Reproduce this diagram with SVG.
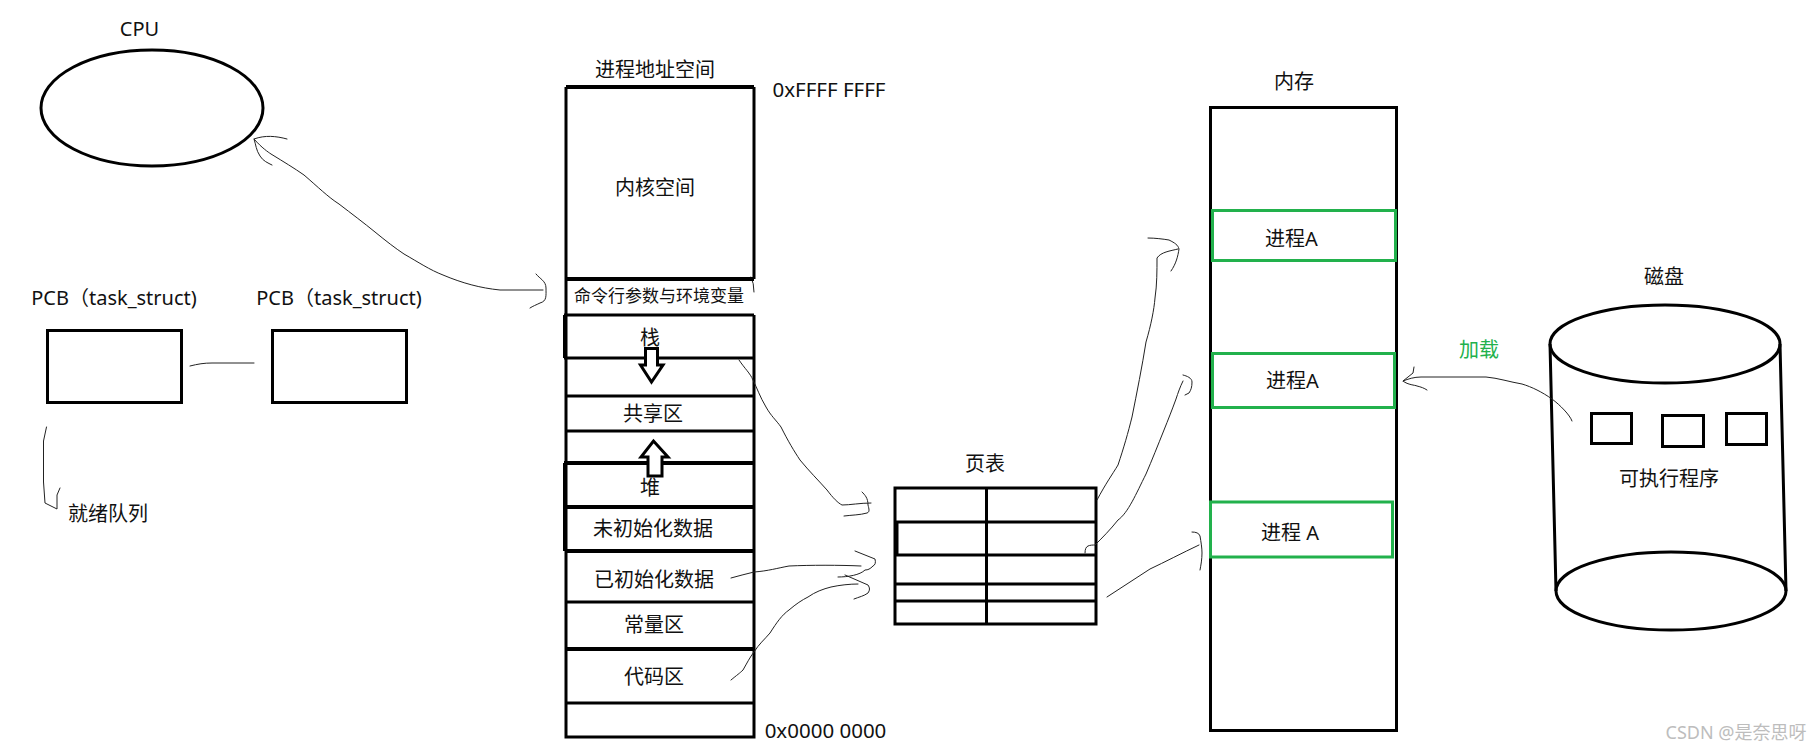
<svg xmlns="http://www.w3.org/2000/svg" width="1820" height="748" viewBox="0 0 1820 748">
<style>
text{font-family:"Noto Sans","Noto Sans CJK SC",sans-serif;font-size:20px;fill:#111;text-anchor:middle}
.small{font-size:17px}
.lat{font-size:20px}
.addr{font-size:20.500px}
.s{fill:none;stroke:#000;stroke-width:3}
.t{fill:none;stroke:#000;stroke-width:4}
.a{fill:#fff;stroke:#000;stroke-width:3}
.g{fill:#fff;stroke:#22b14c;stroke-width:3}
.c{fill:none;stroke:#222;stroke-width:1;stroke-linejoin:round;stroke-linecap:round}
</style>
<rect width="1820" height="748" fill="#fff"/>
<g id="cpu">
<ellipse class="s" cx="152" cy="108" rx="111" ry="58"/>
<text class="lat" x="139.500" y="36">CPU</text>
</g>
<g id="pcb1">
<text class="lat" x="114" y="305">PCB（task_struct)</text>
<rect class="s" x="47.500" y="330.500" width="134" height="72"/>
</g>
<g id="pcb2">
<text class="lat" x="339" y="305">PCB（task_struct)</text>
<rect class="s" x="272.500" y="330.500" width="134" height="72"/>
</g>
<g id="ready-queue"><text x="108" y="521">就绪队列</text></g>
<g id="address-space">
<text x="655" y="77">进程地址空间</text>
<text class="addr" x="829" y="97">0xFFFF FFFF</text>
<path class="t" d="M566 87H754"/>
<path class="s" d="M566 87V737H754V315M754 87V279"/>
<path class="c" stroke-width="2" d="M751 277Q754 283 754 292"/>
<path class="t" d="M566 279H754"/>
<path class="s" d="M564 315H754M564 358H754M566 396H754M566 431H754"/>
<path class="t" d="M565 315V358M564 463H754M566 507H754M566 551H754M565 463V551"/>
<path class="s" d="M566 602H754"/>
<path class="t" d="M566 649H754"/>
<path class="s" d="M566 703H754"/>
<g id="kernel"><text x="655" y="195">内核空间</text></g>
<g id="args"><text class="small" x="659" y="302">命令行参数与环境变量</text></g>
<g id="stack"><text x="650" y="345">栈</text></g>
<path class="a" d="M645.500 348.500H657.500V365H663L651.500 382L640.500 365H645.500Z"/>
<g id="shared"><text x="653" y="421">共享区</text></g>
<path class="a" d="M648 476H662V457H668L653.500 441L641 457H648Z"/>
<g id="heap"><text x="650" y="495">堆</text></g>
<g id="bss"><text x="653" y="536">未初始化数据</text></g>
<g id="data"><text x="654" y="587">已初始化数据</text></g>
<g id="const"><text x="654" y="632">常量区</text></g>
<g id="code"><text x="654" y="684">代码区</text></g>
<text class="addr" x="825.500" y="738">0x0000 0000</text>
</g>
<g id="page-table">
<text x="985" y="471">页表</text>
<path class="s" d="M895 488H1096V624H895ZM986.500 488V624M895 522H1096M895 555H1096M895 584H1096M895 601H1096"/>
<path class="s" d="M897 522V555"/>
</g>
<g id="memory">
<text x="1294" y="89">内存</text>
<rect class="s" x="1210.500" y="107.500" width="186" height="623"/>
<g id="proc1"><rect class="g" x="1212.500" y="210.500" width="183" height="50"/><text x="1291.500" y="246">进程A</text></g>
<g id="proc2"><rect class="g" x="1212.500" y="353.500" width="182" height="54"/><text x="1292.500" y="388">进程A</text></g>
<g id="proc3"><rect class="g" x="1210.500" y="502" width="182" height="55"/><text x="1290" y="540">进程 A</text></g>
</g>
<g id="disk">
<text x="1664" y="284">磁盘</text>
<ellipse class="s" cx="1665" cy="344" rx="115" ry="39"/>
<ellipse class="s" cx="1671" cy="591" rx="115" ry="39"/>
<path class="s" d="M1550 344L1556 591M1780 344L1786 591"/>
<rect class="s" x="1591.500" y="413.500" width="40" height="30"/>
<rect class="s" x="1662.500" y="415.500" width="41" height="31"/>
<rect class="s" x="1726.500" y="413.500" width="40" height="31"/>
<text x="1669" y="486">可执行程序</text>
</g>
<text x="1479" y="357" style="fill:#22b14c">加载</text>
<g id="connectors">
<path class="c" d="M287 139C276 136 265 135 254 139C262 148 268 152 271 154C284 162 294 168 304 175C318 187 328 197 339 204C352 214 364 223 375 232C386 241 395 248 404 254C418 262 430 270 443 275C462 283 480 288 500 290H543"/>
<path class="c" d="M536 274C540 279 546 281 546 288C546 296 547 301 540 303C536 305 533 306 530 308"/>
<path class="c" d="M254 139C256 145 256 150 260 156C263 161 268 163 272 165"/>
<path class="c" d="M190 366C198 364 204 363 212 363H254"/>
<path class="c" d="M46.500 427L43.500 441V482L45 503L57 509V495L60 488"/>
<path class="c" d="M739 360C745 369 750 373 753 380C757 388 760 397 766 407C771 416 776 420 781 427C788 441 794 451 800 460C809 471 819 481 827 490C833 498 838 503 842 505C850 505 860 503 871 503"/>
<path class="c" d="M862 492C865 495 868 498 868 505C869 509 870 512 867 513C860 515 852 515 844 516"/>
<path class="c" d="M731 578C738 576 746 574 754 572C768 571 778 568 789 566C810 565 840 565 861 566"/>
<path class="c" d="M855 551L875 559C876 563 875 565 873 566C870 569 868 570 865 570C860 575 848 577 838 577"/>
<path class="c" d="M731 680C737 675 740 673 743 670C747 663 750 657 754 652C759 644 764 640 770 633C777 622 782 615 789 610C796 604 802 600 808 597C815 592 823 589 831 587C840 585 850 584 858 584"/>
<path class="c" d="M845 575L868 585C870 588 870 590 868 593C864 596 859 597 854 599"/>
<path class="c" d="M1097 500C1106 483 1112 475 1118 465C1124 447 1128 433 1132 417C1137 392 1142 367 1146 342C1151 325 1154 310 1155 298C1157 285 1157 270 1157 258C1161 252 1170 251 1178 249"/>
<path class="c" d="M1148 238C1155 238 1163 239 1169 240C1175 243 1178 245 1179 249C1178 256 1176 264 1171 271"/>
<path class="c" d="M1085 553C1085 549 1086 547 1088 546C1090 545 1093 545 1095 545C1103 537 1110 530 1118 520C1128 513 1136 494 1146 474C1152 460 1158 445 1164 430C1168 420 1172 410 1176 399C1178 393 1180 387 1183 381"/>
<path class="c" d="M1183 375C1187 376 1192 378 1192 382C1192 387 1191 390 1189 393L1185 395"/>
<path class="c" d="M1107 597L1150 569C1165 562 1182 553 1199 545"/>
<path class="c" d="M1192 532C1196 532 1199 533 1200 536C1201 542 1202 548 1202 553C1202 559 1201 565 1200 570"/>
<path class="c" d="M1572 421C1570 415 1560 405 1552 399C1542 392 1532 387 1522 384C1510 382 1498 378 1486 377H1421C1414 377 1408 379 1403 381C1408 385 1415 385 1417 386C1421 387 1424 388 1427 390"/>
<path class="c" d="M1414 367L1413 373L1403 381"/>
</g>
<text x="1736" y="739" style="font-size:18px;fill:#bdbdbd">CSDN @是奈思呀</text>
</svg>
